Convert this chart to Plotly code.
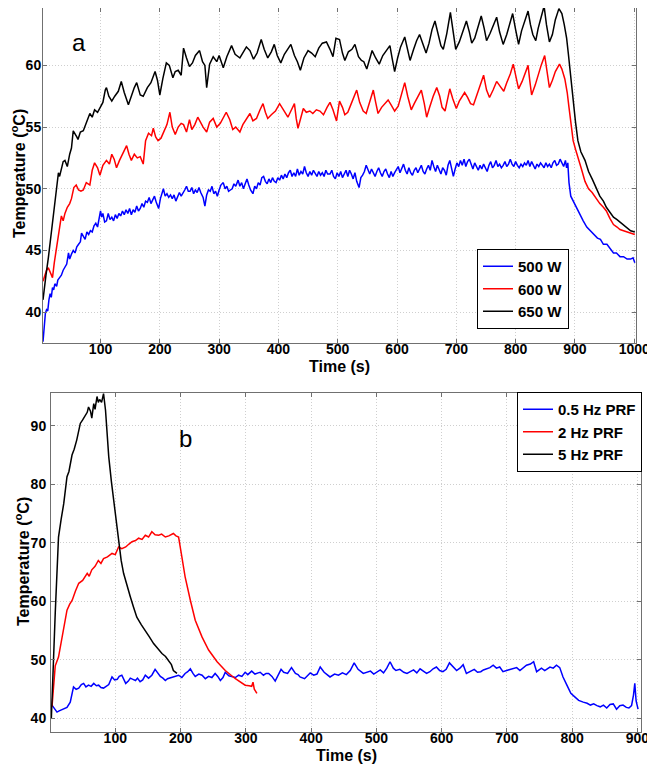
import plotly.graph_objects as go

# ---------------- Panel a: power levels ----------------
t650 = [3,5,8,12,17,20,23,26,29,31,34,37,40,44,48,51,54,57,60,62,66,71,76,82,86,90,95,99,104,108,110,114,119,124,130,135,140,147,152,157,161,167,172,179,185,192,196,200,205,211,216,222,226,231,236,240,245,250,255,260,267,272,276,279,284,290,296,300,307,313,321,327,335,340,346,352,358,364,371,376,382,388,393,398,404,410,416,421,427,432,437,443,450,456,462,468,474,481,487,492,497,503,508,512,518,524,529,535,540,544,549,555,558,564,570,576,582,588,592,596,601,606,613,618,622,628,633,638,644,649,654,659,664,670,674,678,684,690,695,699,705,711,717,722,726,731,737,742,747,751,757,763,768,773,779,785,790,795,800,805,810,816,821,825,829,834,838,843,848,852,857,862,867,873,878,882,886,889,891,894,897,901,905,910,917,923,930,936,942,948,953,959,965,971,976,982,988,994,1001]
v650 = [41.0,42.0,43.0,44.4,46.4,47.8,49.1,50.2,51.3,51.0,51.6,52.2,52.3,51.8,52.8,53.3,54.7,54.5,54.2,54.0,54.6,54.7,55.3,56.1,55.8,56.4,56.2,56.6,57.0,58.0,58.2,57.5,57.1,57.5,57.9,58.7,57.8,56.8,57.6,58.2,58.6,57.6,57.5,58.2,58.6,59.5,58.8,57.6,58.9,60.2,60.0,59.0,59.5,59.6,59.2,61.4,60.6,59.9,60.2,60.8,61.2,60.3,60.0,58.2,60.1,60.7,60.3,60.8,59.8,60.7,61.6,60.9,60.6,61.0,61.5,61.2,60.5,61.0,62.1,61.3,60.6,61.1,61.7,60.8,60.2,60.9,61.4,61.7,60.8,60.3,59.6,60.6,61.2,61.0,60.7,61.4,61.8,61.9,61.3,60.7,62.2,62.1,61.0,60.4,61.1,61.3,61.7,60.7,60.4,60.3,59.7,60.8,61.2,60.6,60.1,60.8,61.2,61.6,60.5,59.5,60.6,61.5,62.3,61.2,60.4,61.3,62.0,62.5,61.7,61.0,61.8,62.9,63.6,62.3,61.6,61.3,62.6,64.3,62.5,61.3,61.9,62.8,63.6,62.7,61.8,62.2,63.2,64.0,63.0,62.0,62.6,63.3,63.9,62.7,61.7,62.5,63.4,64.2,62.9,61.7,62.8,63.6,64.4,63.3,62.5,62.0,63.0,63.9,64.8,63.3,61.9,62.5,63.7,64.6,64.2,63.3,62.2,60.9,59.9,58.6,57.2,55.4,53.9,53.0,52.3,51.4,50.7,50.1,49.4,49.0,48.5,48.1,47.7,47.5,47.3,47.0,46.8,46.6,46.5]

t600 = [3,6,9,12,15,19,22,26,30,34,37,40,44,48,51,55,59,63,67,71,76,82,86,90,95,99,104,110,115,119,123,127,132,138,144,148,152,157,162,167,172,176,181,186,189,193,197,202,207,212,217,221,226,231,236,240,245,250,254,259,264,268,273,279,284,290,296,302,307,312,318,323,328,335,340,346,352,357,363,369,374,378,382,388,395,402,407,411,416,421,427,430,433,438,442,447,453,458,464,470,476,482,487,492,498,503,508,512,517,522,527,532,537,543,548,554,560,564,568,574,580,585,590,596,602,607,613,618,624,629,635,641,646,650,655,661,667,672,676,681,685,689,694,700,705,710,714,719,724,729,735,741,746,751,756,762,768,774,780,785,791,796,800,805,811,816,821,824,827,833,838,843,849,853,857,862,867,874,878,883,887,890,894,897,901,905,911,917,923,929,936,942,948,953,959,965,971,976,982,988,994,1001]
v600 = [42.5,42.9,43.4,43.6,43.3,42.8,44.0,45.3,46.5,47.8,47.4,48.0,48.5,48.8,49.2,50.1,50.3,49.9,49.8,49.9,50.5,50.3,51.5,52.1,51.7,51.1,51.9,52.3,52.0,52.8,52.4,51.7,52.3,52.9,53.5,52.8,52.3,52.8,52.5,52.6,52.0,53.9,54.5,54.3,54.9,54.2,53.9,54.1,54.6,55.2,56.2,55.0,54.4,55.0,55.3,55.2,54.6,55.6,54.8,55.2,55.8,55.4,55.0,54.6,55.4,55.7,55.0,55.3,55.7,56.2,55.6,54.8,55.0,54.6,55.2,55.7,56.1,55.5,55.7,56.4,56.9,56.2,55.7,56.0,56.3,56.9,56.5,56.1,55.8,56.3,56.9,55.7,54.9,55.8,56.5,56.2,56.3,56.1,56.4,56.3,56.0,56.6,57.0,56.4,55.5,57.1,56.6,56.0,56.2,56.8,57.4,58.0,57.0,56.3,56.1,57.0,58.0,57.0,56.1,56.6,56.9,57.2,56.8,56.3,56.7,57.6,58.6,57.5,56.4,56.9,57.5,58.0,56.9,55.8,56.6,57.5,58.2,57.5,56.6,56.3,57.2,58.1,57.3,56.5,57.1,57.5,57.8,57.4,56.9,56.8,57.7,58.5,59.2,58.0,57.4,58.0,58.7,58.3,57.9,58.6,59.3,60.1,59.2,58.1,58.7,59.4,60.0,58.7,57.6,58.4,59.3,60.0,60.8,59.5,58.2,58.8,59.5,60.1,59.7,58.9,57.8,56.6,55.2,53.9,53.2,52.6,51.6,50.6,50.0,49.7,49.2,48.8,48.5,48.2,47.6,47.1,46.9,46.7,46.6,46.5,46.4,46.3]

t500 = [3,5,7,9,11,13,15,17,19,21,23,26,28,31,34,37,40,43,46,48,51,54,57,60,63,66,68,71,74,77,80,83,86,89,92,95,98,100,102,104,107,110,113,116,119,122,125,128,131,134,137,140,143,146,149,152,155,158,161,164,167,170,173,176,179,182,185,188,191,194,198,201,204,206,209,212,215,218,221,224,227,230,233,236,239,242,245,248,251,254,257,260,263,266,269,273,276,279,282,285,288,291,294,297,300,303,307,310,313,316,319,322,325,328,332,335,338,341,344,347,350,353,357,360,363,366,369,372,375,378,381,384,387,390,393,396,399,402,405,408,411,414,417,420,423,426,429,432,435,438,441,444,447,450,453,456,459,462,465,468,471,474,477,480,483,487,490,493,496,499,502,505,508,511,514,517,520,523,526,529,532,536,539,542,545,548,551,554,557,560,563,566,569,572,575,578,581,584,587,590,593,596,599,602,605,608,611,614,617,620,623,626,629,632,635,638,641,644,647,650,653,656,659,662,665,668,671,674,677,680,683,686,689,692,695,698,701,704,707,710,713,716,719,722,725,728,731,734,737,740,743,746,749,752,755,758,761,764,767,770,773,776,779,782,785,788,791,794,797,800,803,806,809,812,815,818,821,824,827,830,833,836,839,842,845,848,851,854,857,860,863,866,869,872,875,878,881,884,886,888,890,893,897,903,908,914,920,926,932,938,943,948,954,960,965,970,976,982,988,994,998,1001]
v500 = [37.6,39.0,39.9,40.2,40.1,41.0,41.5,41.2,42.0,41.8,42.3,42.1,42.6,42.8,43.0,43.4,43.7,43.9,44.8,44.3,44.7,45.0,44.8,45.3,45.5,45.7,46.4,46.1,45.9,46.5,46.3,46.6,46.5,47.0,47.2,46.9,47.6,48.2,47.7,48.0,47.3,47.4,48.0,47.5,47.7,47.4,47.9,47.6,48.0,47.8,48.2,47.9,48.3,48.0,48.4,47.9,48.3,48.1,48.6,48.2,48.4,48.8,48.5,49.0,48.9,49.3,48.8,49.1,49.4,48.9,48.4,49.2,49.7,50.0,49.4,49.6,49.3,49.5,49.2,49.5,49.0,49.4,49.7,49.4,49.6,49.9,50.2,49.8,49.8,50.1,49.6,49.9,49.7,50.1,49.7,49.3,48.6,49.5,49.9,49.8,50.2,49.6,49.8,49.4,49.9,50.3,50.5,50.0,50.2,49.8,49.9,50.0,50.4,50.2,50.7,50.2,50.5,50.0,50.4,50.8,50.3,49.9,49.6,50.2,50.0,50.5,50.3,50.9,51.0,50.6,50.4,50.8,50.5,50.9,50.6,50.5,50.9,50.7,51.1,50.8,51.2,50.9,51.3,51.5,51.0,51.3,51.0,51.6,51.1,51.4,51.2,51.8,51.3,51.0,51.4,51.1,51.5,51.2,51.0,51.4,51.1,51.3,51.0,51.5,51.2,51.2,51.5,51.0,50.8,51.3,51.0,51.4,50.9,51.2,51.5,51.0,51.5,51.2,50.8,51.3,50.6,50.1,50.9,51.1,51.4,51.9,51.5,51.2,51.6,51.3,51.0,51.4,51.7,51.3,51.0,51.4,51.6,51.2,50.9,51.4,51.0,51.3,51.5,51.8,51.3,51.6,52.0,51.5,51.2,51.7,51.3,51.1,51.5,51.7,51.3,51.6,51.9,51.4,51.2,51.6,51.9,51.5,52.3,51.8,51.4,51.9,51.6,51.2,51.7,51.5,51.1,51.9,52.3,51.7,51.0,51.6,52.1,51.8,52.3,51.9,52.4,51.8,52.2,52.4,51.9,51.6,52.1,51.8,51.5,51.9,51.6,52.0,51.7,51.4,51.9,52.2,51.7,51.9,52.3,51.8,52.0,51.7,51.9,52.2,51.8,52.0,52.4,52.0,51.8,52.2,51.9,51.7,52.0,51.8,52.1,51.9,52.3,51.8,52.2,51.9,51.6,52.0,51.8,52.1,51.9,51.7,52.1,51.8,52.0,51.7,52.1,52.3,51.9,52.0,52.4,52.1,51.8,52.3,51.7,52.1,50.5,49.4,49.0,48.4,48.0,47.4,46.9,46.6,46.3,46.0,45.9,45.5,45.5,45.1,44.8,44.8,44.5,44.5,44.3,44.3,44.4,44.0]

# ---------------- Panel b: pulse repetition frequency ----------------
t5hz = [2,4,5.5,8,10.7,13,17,21,26,29,33.7,37,41,46.4,50,54,57,59,62,64,67,69,72,74,76,79,82,85,88,90,94,97.6,101,105,109,112.7,118,123,128,133,140,146,152,158.7,165,171.5,177,181.6,186,189,192,194.5]
v5hz = [40.0,45.0,50.5,58.0,64.2,71.0,74.0,76.7,81.3,82.2,85.0,86.0,87.6,90.4,91.0,91.8,92.3,93.2,92.5,91.3,93.8,92.8,95.0,94.0,94.5,94.0,95.5,92.7,88.0,84.7,80.5,77.3,73.5,69.9,67.0,64.8,62.5,60.8,59.0,57.3,56.0,55.1,54.0,52.8,52.0,51.1,50.6,49.95,49.2,48.2,47.9,47.7]

t2hz = [3,5,8,13,18,22,26,30,34,39,44,50,57,60,64,69,74,78,82,88,95,100,105,110,116,121,125.6,131,135.8,141,146,151,156,161,166.5,171,176.7,182,189,193,197,202,207,215,222.5,233,243,256,268.5,284,299,305,309,311,313,317]
v2hz = [42.0,45.5,49.0,50.5,53.4,56.0,58.5,59.5,60.2,61.8,63.1,63.6,64.8,64.3,65.4,66.0,67.0,66.5,67.3,67.6,68.2,68.0,69.3,69.0,69.3,69.8,70.2,70.4,70.8,70.6,71.3,71.0,71.9,71.4,71.3,71.5,71.0,71.2,71.6,71.2,71.0,67.6,64.2,60.2,56.8,53.9,51.7,49.7,48.2,46.8,45.7,45.6,45.5,46.2,45.0,44.3]

t05hz = [3,7,10.7,14,18,22,26,31,36,40,44,48,51.5,55,59,63,67,71,74.5,78,82,86,90,95,99,103,106,110,113,116,120,123,127,131,134,138,142,146,151,156,161,165,169,173,176.7,180,187,192,197,202,207,211,215,219,222.5,228,233,238,243,248,253,257,261,265,268.5,274,279,284,289,294,299,303,309,314,319,322,327,331,335,340,345,350,354,358,364,370,376,380,383,390,398.6,404,409,414,420,429,436,442,448,454,460,466,472,480,485,491,496,501,506,511,516,521,526,530,536,542,547,552,557,562,567,572,577,582,587,592,597,602,607,612,619,623,628,633,638,646,650,655,660,664,669,674,679,684,689,694,702,708,715,720,725,730,736,741,745.6,753,758,762,766,771,776,781,786,791.6,798,804,810,817,823,828,833,838,843,848,853,858,863,868,873,878,883,887,891,894,896,898,900,901,905]
v05hz = [42.3,41.6,41.1,41.3,41.5,41.7,41.9,42.8,45.4,45.0,45.2,45.8,46.0,45.4,45.7,45.5,46.0,45.6,45.7,45.3,45.2,45.5,45.8,47.1,46.6,46.7,47.2,47.4,46.6,46.0,46.4,46.9,46.7,46.5,46.9,46.3,46.6,47.4,46.9,47.4,48.4,47.8,47.2,46.9,46.5,46.8,47.1,47.3,47.4,47.0,47.7,48.0,48.5,47.7,47.2,47.6,47.4,46.8,47.2,47.0,47.7,47.2,46.5,47.0,47.9,47.3,47.2,47.0,47.4,47.2,47.9,47.5,48.1,47.6,47.8,47.9,47.4,47.7,47.7,47.2,46.4,47.4,48.4,47.9,47.7,48.7,47.7,47.5,47.1,46.8,47.8,47.4,47.6,48.8,47.9,47.1,47.6,47.4,47.8,47.5,48.2,49.5,48.4,47.7,47.9,48.1,47.6,48.0,48.3,47.8,48.6,49.7,48.6,48.2,48.4,47.9,47.7,48.0,48.3,47.8,48.5,48.1,47.7,48.0,48.5,48.8,48.2,48.0,48.4,49.5,48.6,48.2,48.6,49.2,47.7,48.1,48.4,47.9,48.0,48.3,48.5,48.7,49.1,48.6,48.8,48.0,48.3,48.5,48.7,48.2,48.6,49.1,49.3,49.7,48.0,48.6,48.2,48.5,48.8,48.6,49.1,48.7,47.1,45.8,44.3,43.7,43.1,42.8,42.6,42.3,42.5,42.2,42.0,42.3,41.8,42.4,42.5,41.6,42.2,42.3,41.9,41.8,42.2,44.0,46.0,43.0,42.0,41.6]

xticks_a = [100,200,300,400,500,600,700,800,900,1000]
yticks_a = [40,45,50,55,60]
xticks_b = [100,200,300,400,500,600,700,800,900]
yticks_b = [40,50,60,70,80,90]

FONT = "Liberation Sans, Arial, sans-serif"
PAGE_OFF = 8          # default body margin of the page
W, H = 655 - PAGE_OFF, 774 - PAGE_OFF

fig = go.Figure()
lw = 1.5
fig.add_trace(go.Scatter(x=t500, y=v500, mode="lines", name="<b>500 W</b>", line=dict(color="#0000ff", width=lw), xaxis="x", yaxis="y", legend="legend"))
fig.add_trace(go.Scatter(x=t600, y=v600, mode="lines", name="<b>600 W</b>", line=dict(color="#ff0000", width=lw), xaxis="x", yaxis="y", legend="legend"))
fig.add_trace(go.Scatter(x=t650, y=v650, mode="lines", name="<b>650 W</b>", line=dict(color="#000000", width=lw), xaxis="x", yaxis="y", legend="legend"))

fig.add_trace(go.Scatter(x=t05hz, y=v05hz, mode="lines", name="<b>0.5 Hz PRF</b>", line=dict(color="#0000ff", width=lw), xaxis="x2", yaxis="y2", legend="legend2"))
fig.add_trace(go.Scatter(x=t2hz, y=v2hz, mode="lines", name="<b>2 Hz PRF</b>", line=dict(color="#ff0000", width=lw), xaxis="x2", yaxis="y2", legend="legend2"))
fig.add_trace(go.Scatter(x=t5hz, y=v5hz, mode="lines", name="<b>5 Hz PRF</b>", line=dict(color="#000000", width=lw), xaxis="x2", yaxis="y2", legend="legend2"))

def px_x(p):
    return min(1.0, max(0.0, (p - PAGE_OFF) / W))

def px_y(p):
    return min(1.0, max(0.0, 1 - (p - PAGE_OFF) / H))

axis_common = dict(
    showline=True, linecolor="#707070", linewidth=1, mirror="allticks",
    ticks="inside", ticklen=4, tickcolor="#707070",
    showgrid=True, gridcolor="#cfcfcf", griddash="1px,2px", gridwidth=1,
    zeroline=False, automargin=False,
    tickfont=dict(family=FONT, size=14, color="#000000"),
)
title_font = dict(family=FONT, size=16, color="#000000")

fig.update_layout(
    width=W, height=H,
    margin=dict(l=0, r=0, t=0, b=0, autoexpand=False),
    paper_bgcolor="white", plot_bgcolor="white",
    font=dict(family=FONT, color="#000000"),
    xaxis=dict(domain=[px_x(43), px_x(636)], anchor="y", range=[3, 1003],
               tickvals=xticks_a, ticktext=[f"<b>{v}</b>" for v in xticks_a],
               ticklabelstandoff=-7, **axis_common),
    yaxis=dict(domain=[px_y(343), px_y(8)], anchor="x", range=[37.5, 64.65],
               tickvals=yticks_a, ticktext=[f"<b>{v}</b>" for v in yticks_a],
               ticklabelstandoff=-2, **axis_common),
    xaxis2=dict(domain=[px_x(51), px_x(641)], anchor="y2", range=[1.5, 905.5],
                tickvals=xticks_b, ticktext=[f"<b>{v}</b>" for v in xticks_b],
                ticklabelstandoff=-7, **axis_common),
    yaxis2=dict(domain=[px_y(732), px_y(393)], anchor="x2", range=[37.7, 95.6],
                tickvals=yticks_b, ticktext=[f"<b>{v}</b>" for v in yticks_b],
                ticklabelstandoff=1, **axis_common),
    legend=dict(x=px_x(477), y=px_y(249), xanchor="left", yanchor="top",
                bgcolor="white", bordercolor="#000000", borderwidth=1,
                font=dict(family=FONT, size=15, color="#000000"),
                itemwidth=30, tracegroupgap=0),
    legend2=dict(x=px_x(517), y=px_y(392), xanchor="left", yanchor="top",
                 bgcolor="white", bordercolor="#000000", borderwidth=1,
                 font=dict(family=FONT, size=15, color="#000000"),
                 itemwidth=30, tracegroupgap=0),
    showlegend=True,
    annotations=[
        dict(text="a", x=px_x(79), y=px_y(43), xref="paper", yref="paper", showarrow=False,
             font=dict(family=FONT, size=24, color="#000000"), xanchor="center", yanchor="middle"),
        dict(text="b", x=px_x(185), y=px_y(438), xref="paper", yref="paper", showarrow=False,
             font=dict(family=FONT, size=24, color="#000000"), xanchor="center", yanchor="middle"),
        dict(text="<b>Time (s)</b>", x=px_x(339.5), y=px_y(366), xref="paper", yref="paper", showarrow=False,
             font=title_font, xanchor="center", yanchor="middle"),
        dict(text="<b>Time (s)</b>", x=px_x(346), y=px_y(755), xref="paper", yref="paper", showarrow=False,
             font=title_font, xanchor="center", yanchor="middle"),
        dict(text="<b>Temperature (<sup>o</sup>C)</b>", x=px_x(18), y=px_y(174), xref="paper", yref="paper",
             showarrow=False, textangle=-90, font=title_font, xanchor="center", yanchor="middle"),
        dict(text="<b>Temperature (<sup>o</sup>C)</b>", x=px_x(22), y=px_y(562), xref="paper", yref="paper",
             showarrow=False, textangle=-90, font=title_font, xanchor="center", yanchor="middle"),
    ],
)

fig.write_html("out.html")
